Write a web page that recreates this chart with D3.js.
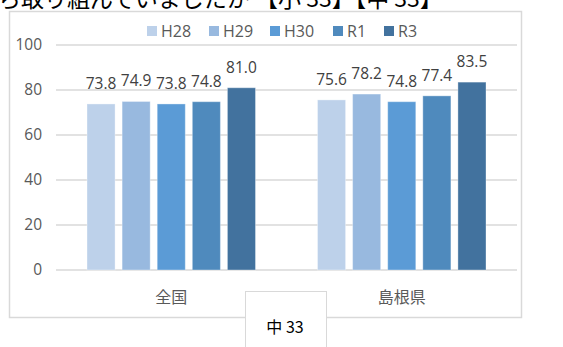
<!DOCTYPE html>
<html>
<head>
<meta charset="utf-8">
<script src="https://cdn.jsdelivr.net/npm/d3@7"></script>
<style>
  html, body { margin: 0; padding: 0; background: #fff; }
  svg { display: block; }
</style>
</head>
<body>
<svg id="chart" width="563" height="347"></svg>
<script>
// Data
const categories = ["全国", "島根県"];
const seriesNames = ["H28", "H29", "H30", "R1", "R3"];
const seriesValues = [
  [73.8, 75.6],  // H28
  [74.9, 78.2],  // H29
  [73.8, 74.8],  // H30
  [74.8, 77.4],  // R1
  [81.0, 83.5]   // R3
];
const yTicks = [0, 20, 40, 60, 80, 100];
const colors = ["#bdd1ea", "#98b9df", "#5b9bd6", "#4f8abd", "#42729e"];

const svg = d3.select("#chart");
const font = "'Open Sans', 'Noto Sans CJK JP', sans-serif";
const jpFont = "'Noto Sans CJK JP', sans-serif";

// Question text running above the chart (partly cut off by the page edge)
svg.append("text")
  .attr("x", -2).attr("y", 7)
  .attr("font-family", jpFont).attr("font-size", 23)
  .attr("fill", "#000")
  .text("ら取り組んでいましたか 【小 33】【中 33】");

// Chart area frame
svg.append("rect")
  .attr("x", 9.5).attr("y", 11.5).attr("width", 512).attr("height", 306)
  .attr("fill", "#fff").attr("stroke", "#d9d9d9").attr("stroke-width", 1.5);

const plot = { left: 56, right: 517, top: 45, bottom: 270 };

const y = d3.scaleLinear().domain([0, 100]).range([plot.bottom, plot.top]);
const x0 = d3.scaleBand().domain(categories).range([plot.left, plot.right]);
const inner = 31;
const x1 = d3.scaleBand().domain(seriesNames)
  .range([inner, x0.bandwidth() - inner]).paddingInner(0.2).paddingOuter(0);

// Gridlines
svg.append("g").selectAll("line").data(yTicks).join("line")
  .attr("x1", plot.left).attr("x2", plot.right)
  .attr("y1", d => y(d)).attr("y2", d => y(d))
  .attr("stroke", "#d9d9d9").attr("stroke-width", 1.5);

// Y axis labels
const yAxis = d3.axisLeft(y).tickValues(yTicks).tickSize(0).tickPadding(0);
svg.append("g")
  .attr("transform", `translate(${plot.left - 14},0)`)
  .call(yAxis)
  .call(g => g.select(".domain").remove())
  .call(g => g.selectAll("text")
    .attr("font-family", font).attr("font-size", 15.5).attr("fill", "#595959"));

// Bars
const groups = svg.append("g").selectAll("g").data(seriesNames).join("g")
  .attr("fill", (d, i) => colors[i]);

groups.selectAll("rect")
  .data((s, i) => categories.map((c, j) => ({ c, s, v: seriesValues[i][j] })))
  .join("rect")
  .attr("x", d => x0(d.c) + x1(d.s))
  .attr("y", d => y(d.v))
  .attr("width", x1.bandwidth())
  .attr("height", d => y(0) - y(d.v))
  .attr("stroke", "#ffffff").attr("stroke-opacity", 0.35).attr("stroke-width", 1);

// Value labels
groups.selectAll("text")
  .data((s, i) => categories.map((c, j) => ({ c, s, v: seriesValues[i][j] })))
  .join("text")
  .attr("x", d => x0(d.c) + x1(d.s) + x1.bandwidth() / 2)
  .attr("y", d => y(d.v) - 15)
  .attr("text-anchor", "middle")
  .attr("font-family", font).attr("font-size", 15.5).attr("fill", "#404040")
  .text(d => d.v.toFixed(1));

// X axis category labels
const xAxis = d3.axisBottom(x0).tickSize(0).tickPadding(0);
svg.append("g")
  .attr("transform", `translate(0,${plot.bottom + 22})`)
  .call(xAxis)
  .call(g => g.select(".domain").remove())
  .call(g => g.selectAll("text")
    .attr("font-family", jpFont).attr("font-size", 16).attr("fill", "#595959"));

// Legend
const legendX = [147, 209, 270, 333, 384];
const legend = svg.append("g").selectAll("g").data(seriesNames).join("g")
  .attr("transform", (d, i) => `translate(${legendX[i]},26)`);
legend.append("rect").attr("width", 10).attr("height", 10)
  .attr("fill", (d, i) => colors[i]);
legend.append("text").attr("x", 14).attr("y", 10.5)
  .attr("font-family", font).attr("font-size", 16).attr("fill", "#595959")
  .text(d => d);

// Page number box overlapping the frame
svg.append("rect")
  .attr("x", 245.5).attr("y", 291.5).attr("width", 81).attr("height", 70)
  .attr("fill", "#fff").attr("stroke", "#d9d9d9").attr("stroke-width", 1);
svg.append("text")
  .attr("x", 285).attr("y", 333)
  .attr("text-anchor", "middle")
  .attr("font-family", jpFont).attr("font-size", 16).attr("fill", "#000")
  .text("中 33");
</script>
</body>
</html>
